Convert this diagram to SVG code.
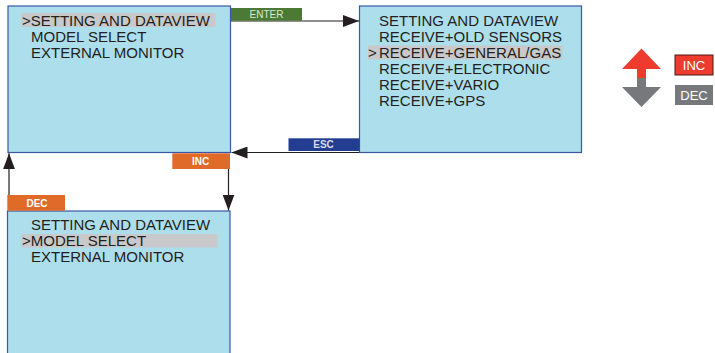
<svg xmlns="http://www.w3.org/2000/svg" width="715" height="353" viewBox="0 0 715 353">
<style>
.screen{fill:#ADDEEB;stroke:#3A57A7;stroke-width:1.2}
.hl{fill:#C9C9CB}
.menu{font-family:"Liberation Sans",Arial,sans-serif;font-size:15px;fill:#231F20}
.lbl{font-family:"Liberation Sans",Arial,sans-serif;font-size:10px;text-anchor:middle}
.bold{font-weight:bold;fill:#FFFFFF}
.conn{stroke:#231F20;stroke-width:1.2;fill:none}
.leg{font-family:"Liberation Sans",Arial,sans-serif;font-size:13px;fill:#FFFFFF;text-anchor:middle}
</style>
<defs>
<marker id="ah" viewBox="0 0 16 12" refX="16" refY="6" markerWidth="16" markerHeight="12" markerUnits="userSpaceOnUse" orient="auto">
<path d="M0,0 L16,6 L0,12 Z" fill="#231F20"/>
</marker>
</defs>
<g id="main-menu">
<rect class="screen" x="8" y="6" width="222.5" height="146.5"/>
<rect class="hl" x="21.5" y="13" width="194" height="14"/>
<text class="menu" x="22" y="25.5">&gt;SETTING AND DATAVIEW</text>
<text class="menu" x="31" y="41.5">MODEL SELECT</text>
<text class="menu" x="31" y="57.5">EXTERNAL MONITOR</text>
</g>
<g id="sub-menu">
<rect class="screen" x="359.5" y="6" width="222" height="146.5"/>
<rect class="hl" x="368" y="45.5" width="194.5" height="14"/>
<text class="menu" x="379" y="25.5">SETTING AND DATAVIEW</text>
<text class="menu" x="379" y="41.5">RECEIVE+OLD SENSORS</text>
<text class="menu" x="368" y="57.5">&gt;</text>
<text class="menu" x="379" y="57.5">RECEIVE+GENERAL/GAS</text>
<text class="menu" x="379" y="73.5">RECEIVE+ELECTRONIC</text>
<text class="menu" x="379" y="89.5">RECEIVE+VARIO</text>
<text class="menu" x="379" y="105.5">RECEIVE+GPS</text>
</g>
<g id="model-menu">
<rect class="screen" x="7.5" y="211" width="222.5" height="150"/>
<rect class="hl" x="21.5" y="234" width="196" height="13.5"/>
<text class="menu" x="31" y="230">SETTING AND DATAVIEW</text>
<text class="menu" x="22" y="246">&gt;MODEL SELECT</text>
<text class="menu" x="31" y="262">EXTERNAL MONITOR</text>
</g>
<g id="connectors">
<line class="conn" x1="231" y1="21" x2="359" y2="21" marker-end="url(#ah)"/>
<line class="conn" x1="359" y1="152.5" x2="231.5" y2="152.5" marker-end="url(#ah)"/>
<line class="conn" x1="228.5" y1="169" x2="228.5" y2="210.5" marker-end="url(#ah)"/>
<line class="conn" x1="9" y1="195" x2="9" y2="153.3" marker-end="url(#ah)"/>
</g>
<g id="label-enter">
<rect x="231" y="8" width="71" height="12.7" fill="#4C7A35"/>
<text class="lbl" x="266.5" y="18" fill="#DCE6D2">ENTER</text>
</g>
<g id="label-esc">
<rect x="288.5" y="138.3" width="71" height="12.7" fill="#233E91"/>
<text class="lbl" x="323.5" y="148.3" fill="#D5DCEE" font-weight="bold">ESC</text>
</g>
<g id="label-inc">
<rect x="172.3" y="153.3" width="57.7" height="15.7" fill="#E06A28"/>
<text class="lbl bold" x="200.5" y="164.5">INC</text>
</g>
<g id="label-dec">
<rect x="7.3" y="195" width="57.7" height="15.7" fill="#E06A28"/>
<text class="lbl bold" x="37" y="206.5">DEC</text>
</g>
<g id="legend">
<path d="M641.5,48.5 L661,69 L646,69 L646,78 L637,78 L637,69 L622,69 Z" fill="#EE3B2F"/>
<path d="M637,78 L646,78 L646,87 L661,87 L641.5,107 L622,87 L637,87 Z" fill="#77787C"/>
<rect x="675" y="55" width="38" height="20" fill="#EE3B2F" stroke="#4A1A14" stroke-width="1"/>
<text class="leg" x="694" y="69.5">INC</text>
<rect x="675" y="85" width="38" height="20" fill="#77787C"/>
<text class="leg" x="694" y="99.5">DEC</text>
</g>
</svg>
